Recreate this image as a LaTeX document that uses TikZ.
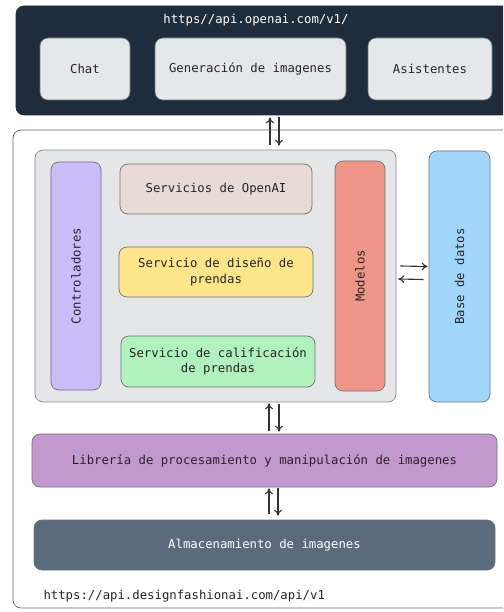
\documentclass[tikz,border=0pt]{standalone}
\usepackage{fontspec}
\setmonofont{DejaVu Sans Mono}
\usepackage{xcolor}
\usetikzlibrary{positioning, arrows.meta}

\definecolor{oscuro}{HTML}{1F2C3B}
\definecolor{claro}{HTML}{E5E7EA}
\definecolor{panel}{HTML}{E4E6E8}
\definecolor{lila}{HTML}{CBBDFA}
\definecolor{rosado}{HTML}{E8DAD5}
\definecolor{amarillo}{HTML}{FDE58C}
\definecolor{verde}{HTML}{B1F1BE}
\definecolor{salmon}{HTML}{F0958A}
\definecolor{celeste}{HTML}{A3D6FB}
\definecolor{morado}{HTML}{C298CF}
\definecolor{pizarra}{HTML}{5B6A7C}
\definecolor{borde}{HTML}{6E7378}

\tikzset{
  caja/.style={draw=borde, line width=0.7pt, rounded corners=8pt, align=center,
    inner sep=0pt, font=\ttfamily\fontsize{12.3}{15.5}\selectfont, text=black!85},
  texto/.style={font=\ttfamily\fontsize{12.3}{15}\selectfont, text=black!85},
  flecha/.style={-{To[length=6pt,width=8pt]}, line width=1.1pt, draw=black!80}
}

\begin{document}
\begin{tikzpicture}[x=1pt, y=-1pt]
    \path[use as bounding box, clip] (0,0) rectangle (503,612);
    % Bloque de OpenAI
    \node[caja, fill=oscuro, draw=oscuro, minimum width=499pt, minimum height=109pt] (api) at (265.5,60.5) {};
    \node[texto, text=white] (urlapi) at (256,20) {https//api.openai.com/v1/};
    \node[caja, fill=claro, minimum width=90pt, minimum height=62pt] (chat) at (85,69) {Chat};
    \node[caja, fill=claro, minimum width=191pt, minimum height=62pt] (gen) at (250.5,69) {Generación de imagenes};
    \node[caja, fill=claro, minimum width=124pt, minimum height=62pt] (asist) at (430,69) {Asistentes};
    % Bloque del servidor
    \node[caja, fill=white, draw=black!60, minimum width=510pt, minimum height=478pt] (servidor) at (268,369) {};
    \node[caja, fill=panel, draw=black!45, minimum width=361pt, minimum height=252pt] (gris) at (215.5,276) {};
    \node[caja, fill=lila, minimum width=50pt, minimum height=228pt] (ctrl) at (76,276) {};
    \node[texto, rotate=90] (ctrltxt) at (ctrl) {Controladores};
    \node[caja, fill=rosado, minimum width=192pt, minimum height=50pt] (openai) at (216,189) {Servicios de OpenAI};
    \node[caja, fill=amarillo, minimum width=194pt, minimum height=50pt] (diseno) at (216,272) {Servicio de diseño de\\prendas};
    \node[caja, fill=verde, minimum width=194pt, minimum height=51pt] (calif) at (218,361.5) {Servicio de calificación\\de prendas};
    \node[caja, fill=salmon, minimum width=50pt, minimum height=230pt] (modelos) at (360,276) {};
    \node[texto, rotate=90] (modtxt) at (modelos) {Modelos};
    \node[caja, fill=celeste, minimum width=61pt, minimum height=251pt] (base) at (459.5,276.5) {};
    \node[texto, rotate=90] (basetxt) at (base) {Base de datos};
    \node[caja, fill=morado, minimum width=465pt, minimum height=53pt] (libreria) at (264.5,460.5) {Librería de procesamiento y manipulación de imagenes};
    \node[caja, fill=pizarra, minimum width=461pt, minimum height=50pt, text=white] (almac) at (264.5,545) {Almacenamiento de imagenes};
    \node[texto, anchor=west] (urlsrv) at (40,596) {https://api.designfashionai.com/api/v1};
    % Flechas
    \coordinate (ejeA) at (270,0);
    \coordinate (ejeB) at (279,0);
    \coordinate (ejeC) at (269,0);
    \coordinate (ejeD) at (278,0);
    \draw[flecha] ([yshift=5pt]gris.north -| ejeA) -- ([yshift=-2pt]api.south -| ejeA);
    \draw[flecha] ([yshift=-2pt]api.south -| ejeB) -- ([yshift=4pt]gris.north -| ejeB);
    \draw[flecha] ([yshift=3pt]libreria.north -| ejeC) -- ([yshift=-1pt]gris.south -| ejeC);
    \draw[flecha] ([yshift=-2pt]gris.south -| ejeB) -- ([yshift=2pt]libreria.north -| ejeB);
    \draw[flecha] ([yshift=6pt]almac.north -| ejeC) -- ([yshift=-1pt]libreria.south -| ejeC);
    \draw[flecha] ([yshift=-1pt]libreria.south -| ejeD) -- ([yshift=4pt]almac.north -| ejeD);
    \draw[flecha] ([xshift=4pt,yshift=10pt]gris.east) -- ([xshift=-1pt,yshift=10pt]base.west);
    \draw[flecha] ([xshift=-5pt,yshift=-3pt]base.west) -- ([xshift=2pt,yshift=-3pt]gris.east);
\end{tikzpicture}
\end{document}
